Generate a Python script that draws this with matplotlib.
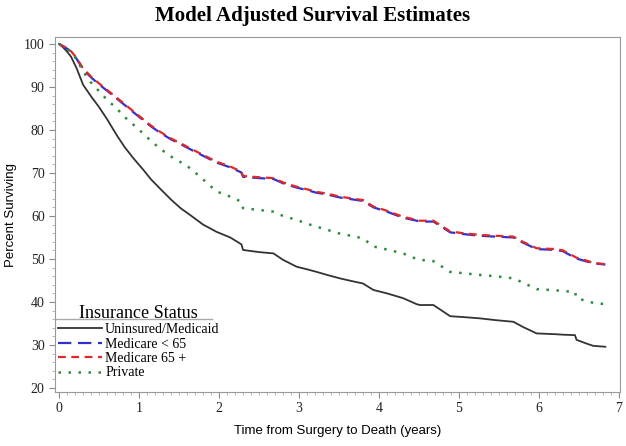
import matplotlib.pyplot as plt
from matplotlib.lines import Line2D
from matplotlib.ticker import MultipleLocator

years = [0, 0.05, 0.1, 0.15, 0.22, 0.3, 0.4, 0.5, 0.6, 0.72, 0.82, 0.93, 1.05, 1.15,
         1.26, 1.4, 1.52, 1.64, 1.8, 1.97, 2.14, 2.28, 2.3, 2.5, 2.68, 2.8, 2.97, 3.1,
         3.22, 3.35, 3.51, 3.65, 3.8, 3.93, 4.1, 4.3, 4.47, 4.51, 4.68, 4.89, 5.05,
         5.26, 5.45, 5.68, 5.8, 5.97, 6.22, 6.3, 6.45, 6.47, 6.6, 6.68, 6.83]

uninsured = [100, 99.2, 98.2, 97.0, 94.3, 90.5, 87.8, 85.3, 82.5, 78.8, 76.0, 73.4, 70.8, 68.5,
             66.4, 63.8, 61.8, 60.2, 58.0, 56.3, 55.0, 53.4, 52.1, 51.6, 51.3, 49.8, 48.2, 47.6,
             47.0, 46.3, 45.5, 44.9, 44.3, 42.8, 42.0, 40.9, 39.5, 39.3, 39.3, 36.7, 36.5,
             36.2, 35.8, 35.4, 34.2, 32.7, 32.5, 32.4, 32.3, 31.2, 30.3, 29.8, 29.6]

medicare_u65 = [100, 99.4, 98.9, 98.2, 96.5, 94.1, 92.2, 90.6, 89.1, 87.3, 85.8, 84.1, 82.3, 80.8,
                79.4, 77.8, 76.7, 75.5, 74.0, 72.4, 71.3, 70.1, 69.1, 68.8, 68.6, 67.6, 66.6, 66.0,
                65.4, 65.0, 64.3, 63.9, 63.5, 62.0, 61.0, 59.6, 58.9, 58.7, 58.7, 56.2, 55.8,
                55.4, 55.2, 55.0, 53.8, 52.3, 52.1, 51.8, 50.3, 50.1, 49.4, 49.0, 48.7]

medicare_65 = [100, 99.5, 99.0, 98.3, 96.7, 94.3, 92.4, 90.8, 89.3, 87.5, 86.0, 84.3, 82.5, 81.0,
               79.6, 78.0, 76.9, 75.7, 74.2, 72.6, 71.5, 70.3, 69.3, 69.0, 68.8, 67.8, 66.8, 66.2,
               65.6, 65.2, 64.5, 64.1, 63.7, 62.2, 61.2, 59.8, 59.1, 58.9, 58.9, 56.4, 56.0,
               55.6, 55.4, 55.2, 54.0, 52.5, 52.3, 52.0, 50.5, 50.3, 49.6, 49.1, 48.8]

private = [100, 99.4, 98.8, 98.2, 96.4, 93.6, 91.0, 89.0, 87.0, 85.0, 83.0, 81.2, 79.2, 77.4,
           75.7, 73.8, 72.5, 71.1, 68.5, 65.7, 64.5, 63.3, 61.8, 61.4, 61.0, 60.0, 59.1, 58.2,
           57.5, 56.8, 55.9, 55.4, 54.8, 52.9, 52.2, 51.3, 50.0, 49.8, 49.5, 47.0, 46.7,
           46.3, 46.0, 45.5, 44.5, 43.0, 42.7, 42.5, 42.4, 40.9, 40.2, 39.8, 39.5]

labels = ['Uninsured/Medicaid', 'Medicare < 65', 'Medicare 65 +', 'Private']
x_ticks = [0, 1, 2, 3, 4, 5, 6, 7]
y_ticks = [20, 30, 40, 50, 60, 70, 80, 90, 100]

fig = plt.figure(figsize=(6.26, 4.46), dpi=100)
ax = fig.add_axes([0.088, 0.121, 0.902, 0.796])

ax.plot(years, uninsured, color='#333333', lw=1.3, label=labels[0])
ax.plot(years, medicare_u65, color='#3030d0', lw=1.6, ls=(0, (6, 3)), label=labels[1])
ax.plot(years, medicare_65, color='#e02828', lw=1.6, ls=(0, (3.5, 2.5)), label=labels[2])
ax.plot(years, private, color='#2e8b3e', lw=1.8, ls=(0, (1, 3)), label=labels[3])

ax.set_xlim(-0.05, 7.01)
ax.set_ylim(19.07, 101.6)
ax.set_xticks(x_ticks)
ax.set_yticks(y_ticks)
ax.xaxis.set_minor_locator(MultipleLocator(0.1))
ax.yaxis.set_minor_locator(MultipleLocator(2))
ax.tick_params(which='major', length=4, color='#888888', labelsize=10)
ax.tick_params(which='minor', length=2, color='#aaaaaa')
for lab in ax.get_xticklabels() + ax.get_yticklabels():
    lab.set_family('Liberation Serif')
    lab.set_color('#222222')
for sp in ax.spines.values():
    sp.set_color('#999999')

ax.set_xlabel('Time from Surgery to Death (years)', family='Liberation Sans', fontsize=9.5, labelpad=7)
ax.set_ylabel('Percent Surviving', family='Liberation Sans', fontsize=9.5, labelpad=5)
fig.suptitle('Model Adjusted Survival Estimates', family='Liberation Serif',
             fontweight='bold', fontsize=15, y=0.987)

leg = ax.legend(loc='lower left', frameon=False, handlelength=3.2, handletextpad=0.2,
                labelspacing=0.1, borderaxespad=0.0, bbox_to_anchor=(-0.005, 0.02),
                title='Insurance Status',
                prop={'family': 'Liberation Serif', 'size': 10},
                title_fontproperties={'family': 'Liberation Serif', 'size': 13})
leg._legend_box.align = 'center'

fig.add_artist(Line2D([56 / 626, 212 / 626], [1 - 319 / 446, 1 - 319 / 446],
                      color='#aaaaaa', lw=1))

fig.savefig('out.png', dpi=100)
